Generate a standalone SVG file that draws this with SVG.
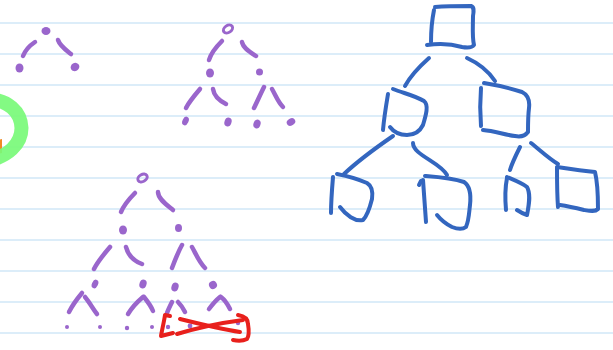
<svg xmlns="http://www.w3.org/2000/svg" width="613" height="350" viewBox="0 0 613 350">
<style>
.rule{stroke:#dcedf9;stroke-width:2}
.p{fill:none;stroke:#9a66cc;stroke-width:4.5;stroke-linecap:round;stroke-linejoin:round}
.pd{fill:#9a66cc}
.b{fill:none;stroke:#3366bf;stroke-width:4;stroke-linecap:round;stroke-linejoin:round}
.r{fill:none;stroke:#e8201c;stroke-width:4;stroke-linecap:round;stroke-linejoin:round}
</style>
<rect width="613" height="350" fill="#ffffff"/>
<g id="paper-lines">
<line class="rule" x1="0" y1="23" x2="613" y2="23"/>
<line class="rule" x1="0" y1="54" x2="613" y2="54"/>
<line class="rule" x1="0" y1="85" x2="613" y2="85"/>
<line class="rule" x1="0" y1="116" x2="613" y2="116"/>
<line class="rule" x1="0" y1="147" x2="613" y2="147"/>
<line class="rule" x1="0" y1="178" x2="613" y2="178"/>
<line class="rule" x1="0" y1="209" x2="613" y2="209"/>
<line class="rule" x1="0" y1="240" x2="613" y2="240"/>
<line class="rule" x1="0" y1="271" x2="613" y2="271"/>
<line class="rule" x1="0" y1="302" x2="613" y2="302"/>
<line class="rule" x1="0" y1="333" x2="613" y2="333"/>
</g>
<g id="highlight">
<path d="M-2,140 L2,139 L2,153 L-2,154 Z" fill="#f08a24"/>
<path d="M-14,99 C8,99 21,112 21.5,128 C21.5,144 8,157 -14,161" fill="none" stroke="#78fa78" stroke-width="14" stroke-opacity="0.92"/>
</g>
<g id="tree-small">
<ellipse class="pd" cx="46" cy="31" rx="4.5" ry="4"/>
<path class="p" d="M35,42 C29,46 25,51 23,56"/>
<path class="p" d="M58,40 C60,46 66,50 71,54"/>
<ellipse class="pd" cx="19.5" cy="68" rx="4" ry="4.5"/>
<ellipse class="pd" cx="75" cy="67" rx="4.5" ry="4" transform="rotate(-30 75 67)"/>
</g>
<g id="tree-medium">
<ellipse cx="228" cy="29" rx="5" ry="3.5" transform="rotate(-35 228 29)" fill="none" stroke="#9a66cc" stroke-width="3"/>
<path class="p" d="M222,41 C216,47 211,53 209,60"/>
<path class="p" d="M242,42 C243,48 250,52 256,56"/>
<ellipse class="pd" cx="210" cy="73" rx="4" ry="4.5"/>
<ellipse class="pd" cx="259.5" cy="72" rx="3.5" ry="3.5"/>
<path class="p" d="M200,89 C194,96 189,102 186,108"/>
<path class="p" d="M213,89 C214,96 220,101 226,104"/>
<path class="p" d="M264,87 C260,95 257,102 254,108"/>
<path class="p" d="M272,89 C276,96 278,102 283,107"/>
<ellipse class="pd" cx="185.5" cy="121" rx="3" ry="4.5" transform="rotate(25 185.5 121)"/>
<ellipse class="pd" cx="228" cy="122" rx="3.5" ry="4.5" transform="rotate(20 228 122)"/>
<ellipse class="pd" cx="257" cy="124" rx="3.5" ry="4.5" transform="rotate(20 257 124)"/>
<ellipse class="pd" cx="291" cy="122" rx="4.5" ry="3.5" transform="rotate(-30 291 122)"/>
</g>
<g id="tree-large">
<ellipse cx="142.5" cy="178" rx="5" ry="3.5" transform="rotate(-30 142.5 178)" fill="none" stroke="#9a66cc" stroke-width="3"/>
<path class="p" d="M135,193 C129,199 124,205 121,212"/>
<path class="p" d="M158,192 C158,199 167,205 173,210"/>
<ellipse class="pd" cx="123" cy="230" rx="4" ry="4.5"/>
<ellipse class="pd" cx="178.5" cy="228" rx="3.5" ry="4"/>
<path class="p" d="M110,247 C104,254 98,261 94,269"/>
<path class="p" d="M126,247 C128,255 134,261 142,264"/>
<path class="p" d="M182,245 C178,252 175,260 172,268"/>
<path class="p" d="M192,247 C196,254 199,262 205,268"/>
<ellipse class="pd" cx="95" cy="284" rx="3" ry="4.5" transform="rotate(25 95 284)"/>
<ellipse class="pd" cx="143" cy="284" rx="3.5" ry="4.5" transform="rotate(20 143 284)"/>
<ellipse class="pd" cx="175" cy="287" rx="3.5" ry="4.5" transform="rotate(20 175 287)"/>
<ellipse class="pd" cx="213" cy="285" rx="4" ry="4" transform="rotate(-30 213 285)"/>
<path class="p" d="M82,293 C77,299 72,306 69,312"/>
<path class="p" d="M85,297 C90,303 93,309 97,314"/>
<path class="p" d="M143,297 C136,303 131,309 128,314"/>
<path class="p" d="M144,297 C148,302 151,306 153,311"/>
<path class="p" d="M172,302 C170,306 168,310 167,313"/>
<path class="p" d="M178,302 C181,305 183,308 185,312"/>
<path class="p" d="M220,297 C215,301 212,305 209,309"/>
<path class="p" d="M221,297 C225,300 228,305 230,309"/>
<circle class="pd" cx="67" cy="327" r="2"/>
<circle class="pd" cx="100" cy="327" r="2"/>
<circle class="pd" cx="127" cy="328" r="2.2"/>
<circle class="pd" cx="152" cy="327" r="2"/>
<circle class="pd" cx="168" cy="327" r="2.2"/>
<circle class="pd" cx="190" cy="326" r="2.4"/>
<circle class="pd" cx="238" cy="323" r="2.2"/>
</g>
<g id="red-cross">
<path class="r" d="M170,316 L165,315 C164,322 162,330 161,336 L173,333"/>
<path class="r" d="M238,315 C244,316 248,319 248,324 C249,330 249,336 247,339 C243,341 238,341 233,340"/>
<path class="r" d="M180,319 C200,324 220,329 240,332"/>
<path class="r" d="M177,334 C197,328 220,323 243,320"/>
</g>
<g id="box-tree">
<g id="b-root">
<path class="b" d="M435,7 C447,6 460,6 471,6 C474,7 474,10 473,16 C473,27 472,37 474,45 C472,48 468,48 462,47 C452,44 440,43 427,45"/>
<path class="b" d="M434,10 C432,20 431,32 431,42"/>
</g>
<g id="b-l">
<path class="b" d="M393,89 C403,93 416,96 424,101 C429,105 426,115 423,125 C419,133 413,135 407,135 C399,135 393,131 390,127"/>
<path class="b" d="M388,94 C386,106 384,118 383,130"/>
</g>
<g id="b-r">
<path class="b" d="M484,83 C496,85 510,88 522,92 C528,95 530,100 529,108 C528,116 528,124 528,132 C525,136 520,137 515,136 C505,135 495,131 483,130"/>
<path class="b" d="M481,88 C480,100 480,114 481,126"/>
</g>
<g id="b-ll">
<path class="b" d="M337,174 C347,176 358,179 367,183 C372,186 373,192 372,199 C370,207 368,215 363,220 C355,222 346,215 340,207"/>
<path class="b" d="M333,177 C332,189 331,201 331,213"/>
</g>
<g id="b-lr">
<path class="b" d="M425,176 C438,177 452,178 464,182 C470,186 471,196 470,205 C469,213 469,220 466,227 C462,230 457,229 452,227 C446,224 441,220 437,215"/>
<path class="b" d="M423,180 C424,194 425,208 426,222"/>
<path class="b" d="M419,185 L421,181"/>
</g>
<g id="b-rl">
<path class="b" d="M507,177 C514,180 522,183 527,187 C531,194 529,205 527,215 C524,214 520,212 517,210"/>
<path class="b" d="M507,178 C505,188 505,199 506,210"/>
</g>
<g id="b-rr">
<path class="b" d="M557,167 C570,169 583,171 595,172 C598,184 598,197 598,209 C595,212 590,211 584,210 C576,208 567,206 560,205"/>
<path class="b" d="M557,168 C557,181 557,194 558,207"/>
</g>
</g>
<g id="connectors">
<path class="b" d="M429,58 C420,66 411,75 405,86"/>
<path class="b" d="M467,58 C478,63 489,72 495,81"/>
<path class="b" d="M393,136 C377,147 359,160 344,174"/>
<path class="b" d="M413,143 C413,155 440,162 447,175"/>
<path class="b" d="M520,147 C516,155 512,163 510,170"/>
<path class="b" d="M531,143 C540,150 548,158 558,164"/>
</g>
</svg>
